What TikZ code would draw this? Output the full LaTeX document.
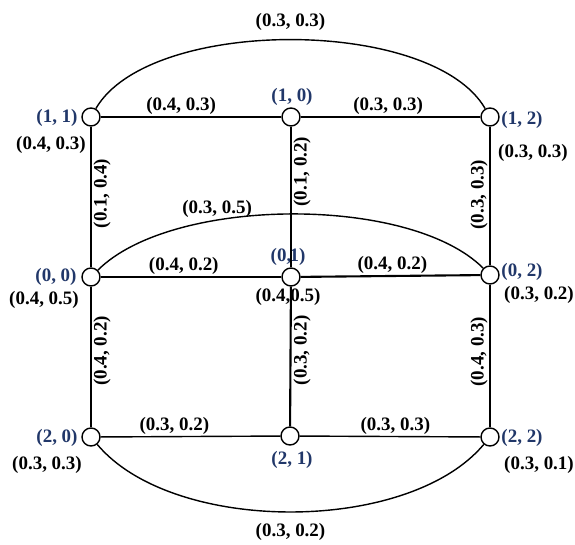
\documentclass[tikz,border=0pt]{standalone}
\usepackage{fontspec}
\setmainfont{Liberation Serif}
\definecolor{idblue}{RGB}{33,55,105}

\begin{document}
\begin{tikzpicture}[
  vtx/.style={draw, circle, fill=white, minimum size=0.36cm, inner sep=0pt, line width=0.8pt},
  idlbl/.style={text=idblue, font=\bfseries\fontsize{10.8}{12}\selectfont, inner sep=1pt},
  wlbl/.style={font=\bfseries\fontsize{10.8}{12}\selectfont, inner sep=1pt},
  link/.style={line width=0.8pt},
  boldlink/.style={line width=1.2pt}
]
\useasboundingbox (0,0) rectangle (11.5,10.88);

% vertices
\node[vtx] (n11) at (1.82,8.54) {};
\node[vtx] (n10) at (5.82,8.54) {};
\node[vtx] (n12) at (9.80,8.54) {};
\node[vtx] (n00) at (1.82,5.34) {};
\node[vtx] (n01) at (5.82,5.34) {};
\node[vtx] (n02) at (9.80,5.38) {};
\node[vtx] (n20) at (1.82,2.14) {};
\node[vtx] (n21) at (5.80,2.16) {};
\node[vtx] (n22) at (9.80,2.14) {};

% vertex ids
\node[idlbl] (b11) at (1.14,8.52) {(1, 1)};
\node[idlbl] (b10) at (5.84,8.94) {(1, 0)};
\node[idlbl] (b12) at (10.44,8.48) {(1, 2)};
\node[idlbl] (b00) at (1.12,5.34) {(0, 0)};
\node[idlbl] (b01) at (5.76,5.74) {(0,\kern-1pt 1)};
\node[idlbl] (b02) at (10.44,5.44) {(0, 2)};
\node[idlbl] (b20) at (1.14,2.12) {(2, 0)};
\node[idlbl] (b21) at (5.84,1.68) {(2, 1)};
\node[idlbl] (b22) at (10.44,2.12) {(2, 2)};

% vertex weights
\node[wlbl] (w11) at (1.02,7.98) {(0.4, 0.3)};
\node[wlbl] (w12) at (10.66,7.82) {(0.3, 0.3)};
\node[wlbl] (w00) at (0.88,4.88) {(0.4, 0.5)};
\node[wlbl] (w01) at (5.76,4.94) {(0.4,0.5)};
\node[wlbl] (w02) at (10.78,4.98) {(0.3, 0.2)};
\node[wlbl] (w20) at (0.94,1.58) {(0.3, 0.3)};
\node[wlbl] (w22) at (10.78,1.58) {(0.3, 0.1)};

% straight edges
\draw[link] (n11) -- node[wlbl, above, pos=0.445] (e1) {(0.4, 0.3)} (n10);
\draw[link] (n10) -- node[wlbl, above, pos=0.487] (e2) {(0.3, 0.3)} (n12);
\draw[link] (n00) -- node[wlbl, above, pos=0.46] (e3) {(0.4, 0.2)} (n01);
\draw[boldlink] (n01) -- node[wlbl, above, pos=0.51] (e4) {(0.4, 0.2)} (n02);
\draw[link] (n20) -- node[wlbl, above, pos=0.41] (e5) {(0.3, 0.2)} (n21);
\draw[link] (n21) -- node[wlbl, above, pos=0.53] (e6) {(0.3, 0.3)} (n22);
\draw[link] (n11) -- node[wlbl, rotate=90, below, pos=0.475] (e7) {(0.1, 0.4)} (n00);
\draw[link] (n10) -- node[wlbl, rotate=90, below, pos=0.32] (e8) {(0.1, 0.2)} (n01);
\draw[link] (n12) -- node[wlbl, rotate=90, above, pos=0.49] (e9) {(0.3, 0.3)} (n02);
\draw[link] (n00) -- node[wlbl, rotate=90, below, pos=0.456] (e10) {(0.4, 0.2)} (n20);
\draw[boldlink] (n01) -- node[wlbl, rotate=90, below, pos=0.456] (e11) {(0.3, 0.2)} (n21);
\draw[link] (n02) -- node[wlbl, rotate=90, above, pos=0.47] (e12) {(0.4, 0.3)} (n22);

% curved edges
\draw[link] (n11) to[out=60, in=120, looseness=0.7] node[wlbl, midway, above=4pt] (a1) {(0.3, 0.3)} (n12);
\draw[link] (n00) to[out=45, in=135, looseness=0.69] node[wlbl, pos=0.34, above] (a2) {(0.3, 0.5)} (n02);
\draw[link] (n20) to[out=-50, in=-130, looseness=0.78] node[wlbl, midway, below=5pt] (a3) {(0.3, 0.2)} (n22);
\end{tikzpicture}
\end{document}
